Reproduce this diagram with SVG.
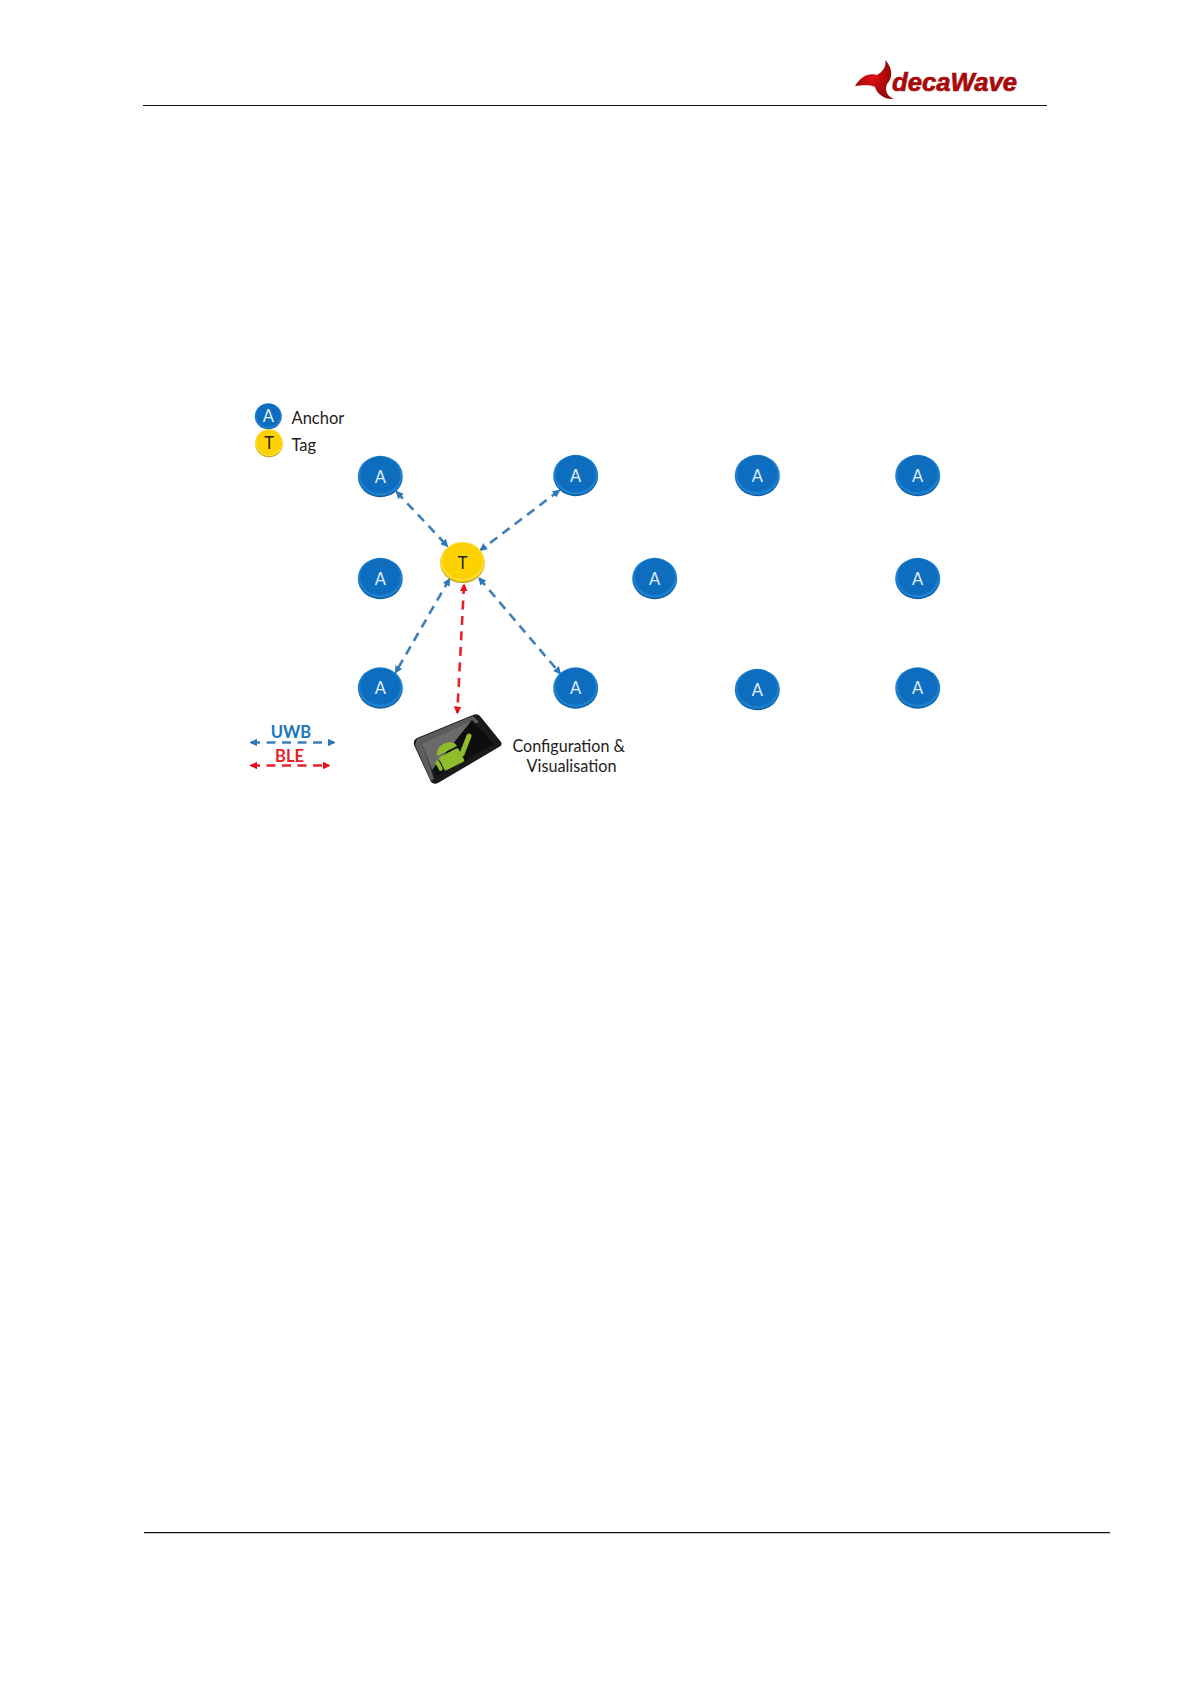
<svg xmlns="http://www.w3.org/2000/svg" width="1190" height="1684" viewBox="0 0 1190 1684">
<style>
.lbl{font-family:"Lato","Liberation Sans",sans-serif;font-size:16.5px;fill:#222}
.nt{font-family:"Lato","Liberation Sans",sans-serif;font-size:16.5px;text-anchor:middle}
.na{fill:#e4eff8}
.nk{fill:#222}
.uwb{fill:none;stroke:#3f7fb8;stroke-width:2.6;stroke-dasharray:9 6.5;marker-start:url(#mb);marker-end:url(#mb)}
.ble{fill:none;stroke:#e8202a;stroke-width:2.6;stroke-dasharray:9 6.5;marker-start:url(#mr);marker-end:url(#mr)}
.rule{stroke:#111;stroke-width:1.2}
</style>
<defs>
<radialGradient id="ga" cx=".5" cy=".46" r=".54"><stop offset="0" stop-color="#0e6fc2"/><stop offset=".78" stop-color="#0d6cbd"/><stop offset=".88" stop-color="#1f86d6"/><stop offset="1" stop-color="#0a4f8e"/></radialGradient>
<radialGradient id="gt" cx=".5" cy=".46" r=".54"><stop offset="0" stop-color="#ffd500"/><stop offset=".78" stop-color="#fcd000"/><stop offset=".88" stop-color="#ffe23a"/><stop offset="1" stop-color="#b88e00"/></radialGradient>
<radialGradient id="gl" cx=".45" cy=".45" r=".6"><stop offset="0" stop-color="#e01010"/><stop offset="1" stop-color="#8c0505"/></radialGradient>
<marker id="mb" viewBox="0 0 10 10" refX="8" refY="5" markerWidth="3" markerHeight="3" orient="auto-start-reverse"><path d="M0 0L10 5L0 10Z" fill="#2f78b8"/></marker>
<marker id="mr" viewBox="0 0 10 10" refX="8" refY="5" markerWidth="3" markerHeight="3" orient="auto-start-reverse"><path d="M0 0L10 5L0 10Z" fill="#e8101c"/></marker>
<ellipse id="an" rx="22.5" ry="20.7" fill="url(#ga)"/>
<ellipse id="tn" rx="22.5" ry="20.5" fill="url(#gt)"/>
</defs>
<rect width="1190" height="1684" fill="#fff"/>
<line class="rule" x1="143" y1="105.5" x2="1047" y2="105.5"/>
<line class="rule" x1="144" y1="1532.6" x2="1110" y2="1532.6"/>
<g id="logo">
<path fill="url(#gl)" d="M885 60C893 68 893 78 887 84C884 91 888 97 894 99C885 100 877 94 875 87C868 84 861 86 855 86C860 77 869 72 877 75C882 72 887 67 885 60Z"/>
<text x="892" y="91" font-family="Liberation Sans,sans-serif" font-weight="bold" font-style="italic" font-size="25" fill="#a80a0a" stroke="#a80a0a" stroke-width=".7" textLength="125" lengthAdjust="spacingAndGlyphs">decaWave</text>
</g>
<g id="connectors">
<line class="uwb" x1="396.7" y1="492" x2="447.3" y2="546"/>
<line class="uwb" x1="559" y1="490.7" x2="480.7" y2="550"/>
<line class="uwb" x1="449.3" y1="579.3" x2="395.7" y2="672.3"/>
<line class="uwb" x1="479.3" y1="578.3" x2="560" y2="673.3"/>
<line class="ble" x1="464" y1="585" x2="457.3" y2="712.7"/>
</g>
<g id="legend-anchor"><use href="#an" transform="translate(268.3 416.3) scale(.6 .63)"/><text class="nt na" x="268.3" y="422">A</text><text class="lbl" x="291.5" y="424">Anchor</text></g>
<g id="legend-tag"><use href="#tn" transform="translate(269 443.3) scale(.62 .68)"/><text class="nt nk" x="269" y="449">T</text><text class="lbl" x="291.5" y="451">Tag</text></g>
<g id="legend-uwb"><text x="291" y="738" font-family="Lato,Liberation Sans,sans-serif" font-weight="bold" font-size="16.5" fill="#1877bd" text-anchor="middle">UWB</text><line class="uwb" x1="251" y1="742.5" x2="334" y2="742.5"/></g>
<g id="legend-ble"><text x="289.5" y="762" font-family="Lato,Liberation Sans,sans-serif" font-weight="bold" font-size="16.5" fill="#ea1c24" text-anchor="middle">BLE</text><line class="ble" x1="251" y1="765.5" x2="329" y2="765.5"/></g>
<g id="anchor-1"><use href="#an" x="380.3" y="476.5"/><text class="nt na" x="380.3" y="482.5">A</text></g>
<g id="anchor-2"><use href="#an" x="575.7" y="475.5"/><text class="nt na" x="575.7" y="481.5">A</text></g>
<g id="anchor-3"><use href="#an" x="757.3" y="475.5"/><text class="nt na" x="757.3" y="481.5">A</text></g>
<g id="anchor-4"><use href="#an" x="917.7" y="475.5"/><text class="nt na" x="917.7" y="481.5">A</text></g>
<g id="anchor-5"><use href="#an" x="380.3" y="578.5"/><text class="nt na" x="380.3" y="584.5">A</text></g>
<g id="anchor-6"><use href="#an" x="654.7" y="578.5"/><text class="nt na" x="654.7" y="584.5">A</text></g>
<g id="anchor-7"><use href="#an" x="917.7" y="578.5"/><text class="nt na" x="917.7" y="584.5">A</text></g>
<g id="anchor-8"><use href="#an" x="380.3" y="688"/><text class="nt na" x="380.3" y="694">A</text></g>
<g id="anchor-9"><use href="#an" x="575.7" y="688"/><text class="nt na" x="575.7" y="694">A</text></g>
<g id="anchor-10"><use href="#an" x="757.3" y="689.5"/><text class="nt na" x="757.3" y="695.5">A</text></g>
<g id="anchor-11"><use href="#an" x="917.7" y="688"/><text class="nt na" x="917.7" y="694">A</text></g>
<g id="tag"><use href="#tn" x="462.5" y="562.5"/><text class="nt nk" x="462.5" y="568.5">T</text></g>
<g id="tablet">
<path d="M417 738L473 715Q477 713 480 716L501 742Q503 745 499 747L438 783Q434 785 431 782L414 745Q413 740 417 738Z" fill="#1a1a1a"/>
<path d="M417 739L473 716L479 722L423 745L434 779L431 781L415 745Z" fill="#5c5c5c"/>
<path d="M422 743L472 720L494 744L437 776Z" fill="#0e0e0e"/>
<path d="M422 743L472 720L432 770Z" fill="#6a6a6a"/>
<g fill="#8fbc2c">
<g transform="translate(451.3 752.2) rotate(-27)">
<path d="M-14 -3A11 8 0 0 1 8 -3Z"/>
<rect x="-14" y="-1" width="22" height="15" rx="2"/>
<rect x="-19" y="1" width="4" height="11" rx="2"/>
</g>
<path d="M462 754L469 736" stroke="#8fbc2c" stroke-width="5" stroke-linecap="round"/>
</g>
</g>
<g id="tablet-label"><text class="lbl" x="512.5" y="751.5" textLength="112.5" lengthAdjust="spacingAndGlyphs">Configuration &amp;</text><text class="lbl" x="526.5" y="772" textLength="90" lengthAdjust="spacingAndGlyphs">Visualisation</text></g>
</svg>
